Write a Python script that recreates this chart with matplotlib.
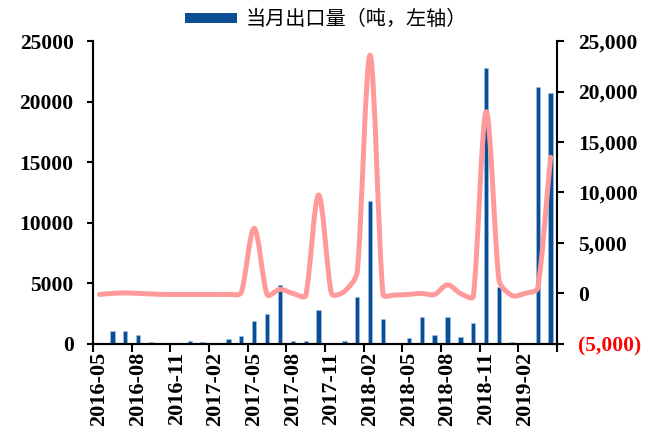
import numpy as np
import matplotlib
matplotlib.use("Agg")
import matplotlib.pyplot as plt
from matplotlib.path import Path
from matplotlib.patches import PathPatch, Patch
from matplotlib.ticker import FixedLocator, FuncFormatter

# ----------------
# Données
# ----------------
months = [f"{y}-{m:02d}" for y, m in
          [(2016, m) for m in range(5, 13)] +
          [(2017, m) for m in range(1, 13)] +
          [(2018, m) for m in range(1, 13)] +
          [(2019, m) for m in range(1, 5)]]

export_qty = [0, 1050, 1050, 750, 150, 0, 0, 200, 150, 0, 400, 650,
              1900, 2500, 4900, 200, 200, 2800, 0, 200, 3900, 11800,
              2050, 100, 450, 2250, 750, 2250, 600, 1750, 22750, 4730,
              150, 0, 21230, 20690]

yoy_change = [-100, 0, 50, 0, -50, -100, -100, -100, -100, -100, -100, 100,
              6450, -100, 400, 0, -200, 9750, 0, 200, 2150, 23600,
              -100, -150, -100, 0, -100, 850, 0, -300, 18000, 1300,
              -200, 0, 550, 13500]

legend_label = "当月出口量（吨，左轴）"

BAR_COLOR = "#0a4f95"
LINE_COLOR = "#ff9a9a"

plt.rcParams["font.family"] = ["Liberation Serif", "Noto Sans CJK SC"]
plt.rcParams["font.weight"] = "bold"


def smooth_path(a, xs, ys):
    # courbe lissée façon Excel, calculée en pixels puis ramenée en données
    pts = a.transData.transform(np.column_stack([xs, ys]).astype(float))
    n = len(pts)
    tang = []
    for i in range(n):
        d = pts[min(i + 1, n - 1)] - pts[max(i - 1, 0)]
        norm = np.hypot(*d)
        tang.append(d / norm if norm > 0 else np.zeros(2))

    def ctrl(i, seg, dx):
        t = tang[i]
        s = seg / 3.0
        if abs(t[0]) > 1e-9:
            s = min(s, dx / 3.0 / abs(t[0]))
        return t * s

    verts = [pts[0]]
    codes = [Path.MOVETO]
    for i in range(n - 1):
        seg = np.hypot(*(pts[i + 1] - pts[i]))
        dx = pts[i + 1][0] - pts[i][0]
        c1 = pts[i] + ctrl(i, seg, dx)
        c2 = pts[i + 1] - ctrl(i + 1, seg, dx)
        verts += [c1, c2, pts[i + 1]]
        codes += [Path.CURVE4] * 3
    verts = a.transData.inverted().transform(np.array(verts))
    return Path(verts, codes)


fig = plt.figure(figsize=(6.6, 4.42), dpi=100)
ax = fig.add_axes([0.141, 0.222, 0.703, 0.685])
ax2 = ax.twinx()

x = np.arange(len(months))
ax.bar(x, export_qty, width=0.33, color=BAR_COLOR, edgecolor="#9cc3e6",
       linewidth=0.4, zorder=2)

ax.set_xlim(-0.5, len(months) - 0.5)
ax.set_ylim(0, 25000)
ax2.set_ylim(-5000, 25000)

ax2.add_patch(PathPatch(smooth_path(ax2, x, yoy_change), facecolor="none",
                        edgecolor=LINE_COLOR, lw=3.6, capstyle="round",
                        joinstyle="round", zorder=3))

# axe x : traits aux frontières, étiquettes tous les 3 mois
ax.xaxis.set_major_locator(FixedLocator(np.arange(-0.5, len(months), 3)))
ax.xaxis.set_major_formatter(FuncFormatter(lambda v, p: ""))
ax.set_xticks(x[::3], minor=True)
ax.set_xticklabels(months[::3], minor=True, rotation=90, fontsize=16,
                   fontweight="bold")
ax.tick_params(axis="x", which="major", length=6, width=1.5, direction="out")
ax.tick_params(axis="x", which="minor", length=0, pad=6)

ax.set_yticks(np.arange(0, 25001, 5000))
ax.tick_params(axis="y", length=4, width=1.5, labelsize=15.5, pad=10)
for t in ax.get_yticklabels():
    t.set_fontweight("bold")

ax2.set_yticks(np.arange(-5000, 25001, 5000))


def fmt_right(v, p):
    if v < 0:
        return f"({abs(int(v)):,})"
    return f"{int(v):,}"


ax2.yaxis.set_major_formatter(FuncFormatter(fmt_right))
ax2.tick_params(axis="y", length=5, width=1.5, labelsize=15.5, pad=10)
fig.canvas.draw()
for t in ax2.get_yticklabels():
    t.set_fontweight("bold")
    if t.get_text().startswith("("):
        t.set_color("red")

for a in (ax, ax2):
    a.spines["top"].set_visible(False)
    for s in ("left", "right", "bottom"):
        a.spines[s].set_linewidth(1.5)
ax.spines["right"].set_visible(False)

fig.legend(handles=[Patch(facecolor=BAR_COLOR, label=legend_label)],
           loc="center", bbox_to_anchor=(0.494, 0.955), frameon=False,
           handlelength=2.6, handleheight=0.4, handletextpad=0.45,
           prop={"family": ["Noto Sans CJK SC"], "size": 14.5,
                 "weight": "normal"})

fig.savefig("out.png", dpi=100)
